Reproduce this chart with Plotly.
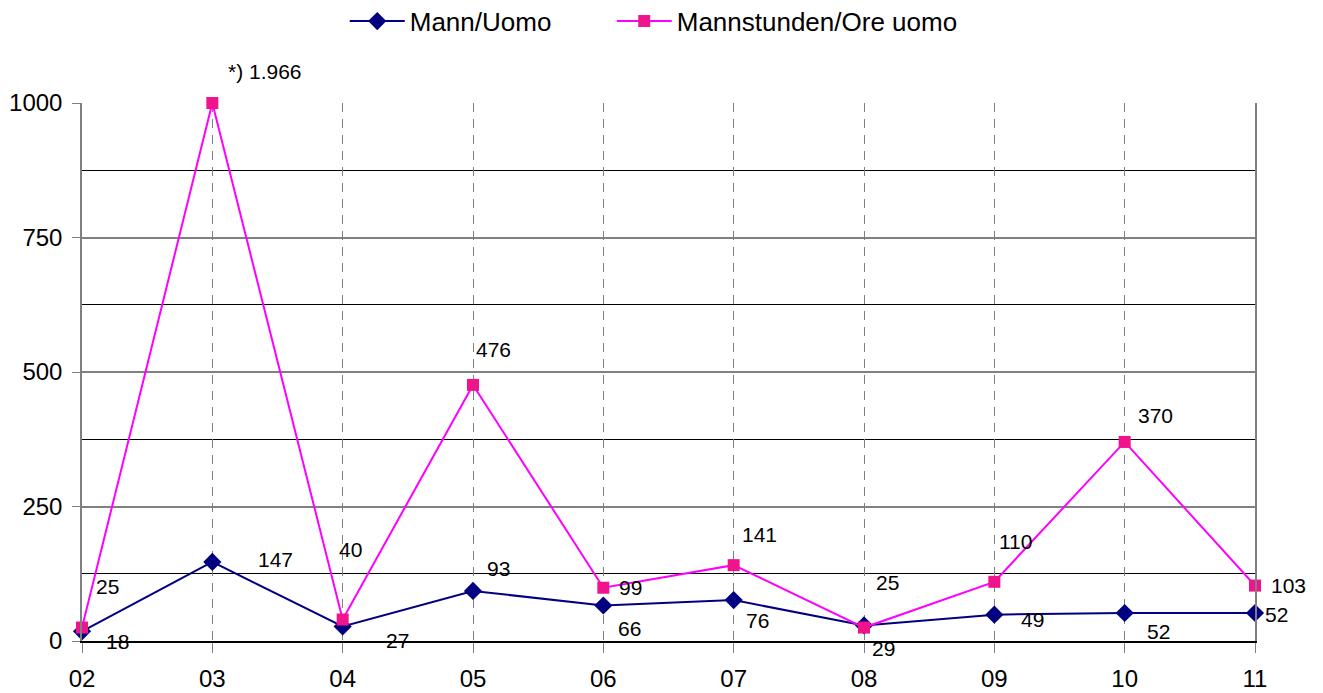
import plotly.graph_objects as go

categories = ["02", "03", "04", "05", "06", "07", "08", "09", "10", "11"]
mann = [18, 147, 27, 93, 66, 76, 29, 49, 52, 52]
mannstunden = [25, 1966, 40, 476, 99, 141, 25, 110, 370, 103]
mann_labels = ["18", "147", "27", "93", "66", "76", "29", "49", "52", "52"]
mannstunden_labels = ["25", "*) 1.966", "40", "476", "99", "141", "25", "110", "370", "103"]
y_max = 1000

# label offsets in pixels (style only)
mann_off = [(35, -10), (63, 2), (55, -14), (25, 22), (26, -23), (24, -20),
            (19, -23), (38, -5), (34, -18), (21, -1)]
ms_off = [(25, 41), (53, 32), (8, 70), (20, 35), (27, 0), (26, 31),
          (23, 45), (21, 40), (31, 26), (33, 0)]

ms_plot = [min(v, y_max) for v in mannstunden]

FONT = "Liberation Sans, Arial, sans-serif"

fig = go.Figure()
fig.add_trace(go.Scatter(
    x=categories, y=mann, name="Mann/Uomo", mode="lines+markers",
    line=dict(color="#000080", width=2),
    marker=dict(symbol="diamond", size=14, color="#000080"),
    cliponaxis=False, legend="legend",
))
fig.add_trace(go.Scatter(
    x=categories, y=ms_plot, name="Mannstunden/Ore uomo", mode="lines+markers",
    line=dict(color="#FF00FF", width=2),
    marker=dict(symbol="square", size=12, color="#F0148C"),
    cliponaxis=False, legend="legend2",
))

annotations = []
for i, (v, t, (dx, dy)) in enumerate(zip(mann, mann_labels, mann_off)):
    annotations.append(dict(x=i, y=v, text=t, showarrow=False, xshift=dx, yshift=dy,
                            font=dict(size=21, color="black", family=FONT)))
for i, (v, t, (dx, dy)) in enumerate(zip(ms_plot, mannstunden_labels, ms_off)):
    annotations.append(dict(x=i, y=v, text=t, showarrow=False, xshift=dx, yshift=dy,
                            font=dict(size=21, color="black", family=FONT)))

legend_common = dict(orientation="h", xref="paper", yref="paper",
                     xanchor="left", y=1.152, yanchor="middle",
                     font=dict(size=26), itemwidth=55,
                     bgcolor="rgba(0,0,0,0)")

fig.update_layout(
    width=1323, height=693,
    margin=dict(l=82, r=68, t=103, b=52, autoexpand=False),
    paper_bgcolor="white", plot_bgcolor="white",
    font=dict(family=FONT, size=23, color="black"),
    showlegend=True,
    legend=dict(x=0.224, **legend_common),
    legend2=dict(x=0.4516, **legend_common),
    annotations=annotations,
)
fig.update_xaxes(
    type="category", range=[0, 9], automargin=False,
    showgrid=True, gridcolor="#808080", griddash="9px,7px", gridwidth=1,
    showline=True, linecolor="black", linewidth=1.5,
    ticks="outside", ticklen=10, tickcolor="#808080",
    tickfont=dict(size=24), ticklabelstandoff=5,
    zeroline=False, fixedrange=True,
)
fig.update_yaxes(
    range=[0, y_max], dtick=250, tick0=0, automargin=False,
    showgrid=True, gridcolor="#808080", gridwidth=1.5,
    minor=dict(dtick=125, showgrid=True, gridcolor="black", gridwidth=1),
    showline=True, linecolor="#808080", linewidth=1.5, mirror=True,
    ticks="outside", ticklen=8, tickcolor="#808080",
    tickfont=dict(size=24), ticklabelstandoff=5,
    zeroline=False, fixedrange=True,
)

fig.write_html("out.html", config={"displayModeBar": False},
               post_script="document.body.style.margin='0';document.body.style.overflow='hidden';")
